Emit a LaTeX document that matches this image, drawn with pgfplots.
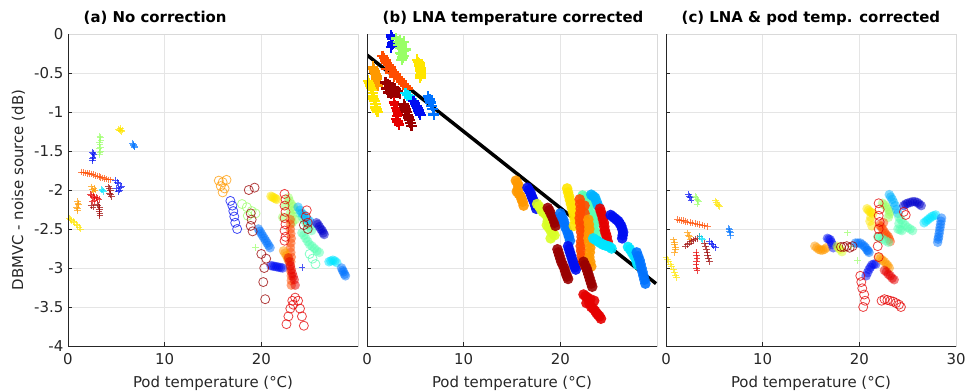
\documentclass[border=0pt]{standalone}
\usepackage{fontspec}
\setmainfont{DejaVu Sans}
\usepackage{pgfplots}
\pgfplotsset{compat=1.18}
\definecolor{jblue}{rgb}{0,0.05,0.95}
\definecolor{jdblue}{rgb}{0,0,0.8}
\definecolor{jazure}{rgb}{0,0.45,1}
\definecolor{jsky}{rgb}{0,0.7,1}
\definecolor{jcyan}{rgb}{0,0.9,1}
\definecolor{jaqua}{rgb}{0.35,1,0.7}
\definecolor{jlgreen}{rgb}{0.6,1,0.4}
\definecolor{jygreen}{rgb}{0.85,1,0.15}
\definecolor{jyellow}{rgb}{1,0.9,0}
\definecolor{jorange}{rgb}{1,0.6,0}
\definecolor{jorred}{rgb}{1,0.3,0}
\definecolor{jred}{rgb}{0.9,0,0}
\definecolor{jdred}{rgb}{0.6,0,0}
\definecolor{axgray}{rgb}{0.15,0.15,0.15}
\newcommand{\fs}{\fontsize{11.2}{13}\selectfont}
\pgfplotsset{
 panel/.style={scale only axis, width=217.5pt, height=234pt,
   xmin=0, xmax=30, ymin=-4, ymax=0,
   xtick={0,10,20,30}, ytick={-4,-3.5,...,0},
   grid=major, major grid style={draw=black!10, line width=0.4pt},
   axis line style={draw=black!15, line width=0.5pt},
   tick pos=left, tick align=inside, major tick length=3pt,
   tick style={draw=axgray, line width=0.5pt},
   /pgf/number format/assume math mode=true,
   ticklabel style={font=\fs, text=axgray},
   xticklabel style={yshift=-2pt},
   label style={font=\fs, text=axgray},
   xlabel={Pod temperature (°C)},
   xlabel style={at={(axis description cs:0.5,0)}, anchor=base, yshift=-31pt},
   title style={at={(axis description cs:0.038,1)}, anchor=base west, yshift=2.5pt, font=\fs\bfseries, text=black},
   anchor=south west, clip=true},
 pm/.style={only marks, mark=+, color=#1, mark size=2.5pt, mark options={line width=0.65pt, draw opacity=0.7}},
 pb/.style={only marks, mark=+, color=#1, mark size=4pt, mark options={line width=1.8pt}},
 fm/.style={only marks, mark=*, color=#1, mark size=3.6pt, mark options={draw opacity=0, fill opacity=0.5}},
 fb/.style={only marks, mark=*, color=#1, mark size=4pt, mark options={draw opacity=0, fill opacity=0.9}},
 om/.style={only marks, mark=o, color=#1, mark size=3.4pt, mark options={line width=0.6pt, draw opacity=0.75}},
}
\begin{document}
\begin{tikzpicture}
\useasboundingbox (0,0) rectangle (727.5pt,292.5pt);
% ---------------- (a)
\begin{axis}[panel, name=a1, at={(51pt,33pt)}, title={(a) No correction},
  xticklabels={0,10,20,}, ylabel={DBMVC - noise source (dB)}]
\addplot[pm=jyellow] coordinates {(5.2,-1.22)(5.4,-1.24)(5.6,-1.23)(5.4,-1.21)(5.3,-1.23)(5.5,-1.25)};
\addplot[pm=jazure] coordinates {(6.7,-1.40)(6.8,-1.43)(6.9,-1.45)(6.75,-1.42)(6.85,-1.44)};
\addplot[pm=jlgreen] coordinates {(3.3,-1.31)(3.4,-1.36)(3.3,-1.42)(3.2,-1.47)(3.4,-1.50)(3.3,-1.55)(3.35,-1.33)(3.25,-1.39)(3.35,-1.45)(3.3,-1.52)};
\addplot[pm=jblue] coordinates {(2.5,-1.52)(2.7,-1.55)(2.6,-1.58)(2.5,-1.62)(2.6,-1.53)(2.55,-1.6)};
\addplot[pm=jorred] coordinates {(1.4,-1.77)(1.6,-1.775)(1.8,-1.78)(2.0,-1.785)(2.2,-1.79)(2.4,-1.795)(2.6,-1.80)(2.8,-1.81)(3.0,-1.82)(3.2,-1.83)(3.4,-1.84)(3.6,-1.845)(3.8,-1.85)(4.0,-1.86)(4.2,-1.87)(4.4,-1.87)};
\addplot[pm=jblue] coordinates {(4.9,-1.88)(5.2,-1.92)(5.5,-1.95)(5.0,-1.98)(5.3,-2.0)(5.1,-1.9)(5.4,-1.97)(5.2,-2.02)};
\addplot[pm=jorange] coordinates {(2.4,-1.96)(2.7,-1.98)(2.6,-2.02)(2.5,-1.99)(2.8,-2.0)};
\addplot[pm=jcyan] coordinates {(3.5,-1.99)(3.7,-2.02)(3.6,-2.0)};
\addplot[pm=jdred] coordinates {(4.2,-1.96)(4.4,-2.0)(4.3,-2.04)(4.5,-2.08)(4.3,-1.98)(4.4,-2.06)};
\addplot[pm=jred] coordinates {(2.3,-2.06)(2.6,-2.08)(2.9,-2.1)(3.2,-2.12)(2.5,-2.15)(2.45,-2.07)(2.75,-2.09)(3.05,-2.11)(2.7,-2.14)};
\addplot[pm=jdred] coordinates {(3.0,-2.18)(3.3,-2.22)(3.2,-2.28)(3.3,-2.33)(2.4,-2.2)(3.1,-2.2)(3.25,-2.25)(3.3,-2.3)(2.6,-2.22)};
\addplot[pm=jorange] coordinates {(1.0,-2.15)(1.1,-2.19)(0.9,-2.22)(1.0,-2.26)(1.05,-2.17)(0.95,-2.24)};
\addplot[pm=jyellow] coordinates {(0.1,-2.36)(0.25,-2.375)(0.4,-2.39)(0.55,-2.405)(0.7,-2.42)(0.85,-2.44)(1.0,-2.46)(1.15,-2.48)(1.3,-2.5)};
\addplot[pm=jlgreen] coordinates {(19.4,-2.74)};
\addplot[pm=jblue] coordinates {(24.2,-2.99)};
% filled
\addplot[fm=jyellow] coordinates {(21.0,-2.08)(21.3,-2.1)(21.6,-2.12)(21.15,-2.09)(21.45,-2.11)};
\addplot[fm=jlgreen] coordinates {(22.8,-2.1)(23.1,-2.18)(23.4,-2.25)(23.0,-2.3)(23.5,-2.38)(23.2,-2.42)(22.5,-2.2)(22.2,-2.35)(22.9,-2.14)(23.3,-2.21)(23.2,-2.33)};
\addplot[fm=jazure] coordinates {(19.7,-2.5)(20.0,-2.56)(20.3,-2.62)(20.6,-2.68)(20.9,-2.74)(19.85,-2.53)(20.15,-2.59)(20.45,-2.65)(20.75,-2.71)};
\addplot[fm=jorred] coordinates {(23.0,-2.38)(23.0,-2.44)(23.0,-2.5)(23.05,-2.56)(23.1,-2.62)(23.05,-2.68)(23.0,-2.74)(23.05,-2.8)(23.1,-2.86)(23.05,-2.92)(23.0,-2.98)(23.05,-3.04)(23.1,-3.1)(23.1,-3.16)(23.1,-3.22)};
\addplot[fm=jorange] coordinates {(22.3,-2.78)(22.6,-2.84)(22.8,-2.9)(22.45,-2.81)(22.7,-2.87)};
\addplot[fm=jblue] coordinates {(21.0,-2.97)(21.2,-2.975)(21.4,-2.98)(21.6,-2.985)(21.8,-2.99)(22.0,-2.995)(22.2,-3.0)};
\addplot[fm=jred] coordinates {(22.8,-2.87)(23.0,-2.97)(23.2,-3.07)(23.4,-3.15)(23.5,-3.22)(22.9,-2.92)(23.1,-3.02)(23.3,-3.11)};
\addplot[fm=jaqua] coordinates {(24.0,-2.3)(24.4,-2.38)(24.8,-2.45)(25.2,-2.52)(24.2,-2.55)(24.6,-2.62)(25.0,-2.7)(25.5,-2.75)(26.0,-2.8)(24.2,-2.34)(24.6,-2.42)(25.0,-2.48)(24.4,-2.58)(24.8,-2.66)(25.25,-2.72)(25.75,-2.78)};
\addplot[fm=jsky] coordinates {(23.8,-2.22)(24.2,-2.3)(24.6,-2.35)(25.0,-2.4)(24.0,-2.26)(24.4,-2.32)(24.8,-2.38)};
\addplot[fm=jdblue] coordinates {(25.7,-2.42)(26.0,-2.47)(26.3,-2.52)(26.5,-2.57)(25.85,-2.44)(26.15,-2.5)(26.4,-2.55)};
\addplot[fm=jcyan] coordinates {(27.0,-2.92)(27.4,-2.9)(27.8,-2.93)(27.2,-2.91)(27.6,-2.91)};
\addplot[fm=jazure] coordinates {(28.3,-3.0)(28.5,-3.05)(28.7,-3.1)(28.4,-3.03)(28.6,-3.08)};
% open
\addplot[om=jorange] coordinates {(15.6,-1.88)(16.0,-1.9)(16.4,-1.87)(15.8,-1.95)(16.2,-1.98)(16.0,-2.03)};
\addplot[om=jblue] coordinates {(16.8,-2.14)(17.0,-2.2)(17.1,-2.27)(17.2,-2.34)(17.3,-2.42)(17.5,-2.5)};
\addplot[om=jdred] coordinates {(18.7,-2.0)(19.3,-1.97)};
\addplot[om=jlgreen] coordinates {(18.0,-2.18)(18.5,-2.22)(19.0,-2.27)(19.4,-2.3)(18.6,-2.33)};
\addplot[om=jdred] coordinates {(18.9,-2.3)(19.0,-2.38)(18.9,-2.46)(19.1,-2.53)};
\addplot[om=jred] coordinates {(22.4,-2.05)(22.5,-2.12)(22.4,-2.2)(22.5,-2.28)(22.4,-2.36)(22.5,-2.44)(22.4,-2.52)(22.5,-2.6)(22.4,-2.65)};
\addplot[om=jdred] coordinates {(20.0,-2.82)(20.5,-2.88)(20.3,-3.0)(20.2,-3.18)(20.4,-3.4)};
\addplot[om=jred] coordinates {(22.6,-3.72)(22.8,-3.62)(23.0,-3.52)(23.2,-3.42)(23.5,-3.38)(23.8,-3.42)(24.0,-3.52)(24.2,-3.62)(24.4,-3.74)(23.3,-3.47)};
\addplot[om=jred] coordinates {(24.7,-2.26)(24.6,-2.34)(24.8,-2.42)};
\addplot[om=jaqua] coordinates {(25.0,-2.82)(25.3,-2.88)(25.6,-2.95)};
\addplot[om=jdred] coordinates {(24.4,-2.45)(24.8,-2.5)};
\end{axis}
\draw[axgray, line width=0.5pt] (a1.north west) -- (a1.south west) -- (a1.south east);
% ---------------- (b)
\begin{axis}[panel, name=a2, at={(275.25pt,33pt)}, title={(b) LNA temperature corrected},
  xticklabels={0,10,20,}, yticklabels={}]
\addplot[pb=jblue] coordinates {(2.5,-0.02)(2.6,-0.06)(2.7,-0.10)(2.6,-0.14)(2.5,-0.17)(2.55,-0.04)(2.65,-0.12)};
\addplot[pb=jlgreen] coordinates {(3.0,-0.06)(3.4,-0.08)(3.8,-0.1)(3.2,-0.14)(3.6,-0.18)(4.0,-0.2)(3.4,-0.24)(3.8,-0.28)(3.6,-0.33)(3.2,-0.1)(3.6,-0.12)(3.4,-0.18)(3.8,-0.22)(3.6,-0.26)(3.7,-0.3)};
\addplot[pb=jyellow] coordinates {(5.2,-0.33)(5.4,-0.38)(5.5,-0.44)(5.6,-0.5)(5.5,-0.56)(5.3,-0.36)(5.45,-0.41)(5.55,-0.47)(5.55,-0.53)};
\addplot[pb=jorange] coordinates {(0.6,-0.42)(0.8,-0.48)(1.0,-0.54)(0.9,-0.6)(1.1,-0.66)(0.7,-0.45)(0.9,-0.51)(0.95,-0.57)(1.0,-0.63)};
\addplot[pb=jyellow] coordinates {(0.1,-0.6)(0.3,-0.66)(0.5,-0.72)(0.6,-0.8)(0.8,-0.86)(0.9,-0.94)(1.1,-1.0)(0.2,-0.63)(0.4,-0.69)(0.55,-0.76)(0.7,-0.83)(0.85,-0.9)(1.0,-0.97)};
\addplot[pb=jorred] coordinates {(1.6,-0.28)(1.9,-0.34)(2.2,-0.40)(2.6,-0.46)(3.0,-0.52)(3.4,-0.58)(3.8,-0.64)(4.2,-0.70)(2.0,-0.45)(2.8,-0.55)(1.75,-0.31)(2.05,-0.37)(2.4,-0.43)(2.8,-0.49)(3.2,-0.55)(3.6,-0.61)(4.0,-0.67)(2.4,-0.5)};
\addplot[pb=jdred] coordinates {(1.9,-0.62)(2.4,-0.66)(2.9,-0.7)(3.4,-0.76)(2.2,-0.75)(2.8,-0.8)(2.15,-0.64)(2.65,-0.68)(3.15,-0.73)(2.5,-0.77)(2.0,-0.7)};
\addplot[pb=jcyan] coordinates {(4.0,-0.76)(4.4,-0.8)(4.6,-0.84)(4.2,-0.78)};
\addplot[pb=jblue] coordinates {(4.8,-0.86)(5.1,-0.92)(5.3,-0.98)(5.5,-1.04)(4.95,-0.89)(5.2,-0.95)(5.4,-1.01)};
\addplot[pb=jred] coordinates {(2.8,-0.88)(3.0,-0.95)(3.2,-1.02)(3.0,-1.09)(3.3,-1.16)(2.9,-0.91)(3.1,-0.98)(3.1,-1.05)(3.15,-1.12)};
\addplot[pb=jdred] coordinates {(3.8,-0.9)(4.0,-0.97)(4.2,-1.04)(4.4,-1.1)(4.6,-1.18)(3.9,-0.93)(4.1,-1.0)(4.3,-1.07)(4.5,-1.14)};
\addplot[pb=jazure] coordinates {(6.3,-0.8)(6.6,-0.88)(6.8,-0.96)(6.9,-1.03)(6.45,-0.84)(6.7,-0.92)};
% filled
\addplot[fb=jorange] coordinates {(15.4,-1.88)(15.7,-1.95)(15.5,-2.02)(15.9,-2.08)(16.1,-2.15)(16.2,-2.2)(15.55,-1.91)(15.6,-1.99)(15.7,-2.05)(16.0,-2.12)};
\addplot[fb=jblue] coordinates {(16.6,-1.97)(16.9,-2.03)(17.1,-2.1)(17.3,-2.16)(17.5,-2.24)(16.75,-2.0)(17.0,-2.07)(17.2,-2.13)(17.4,-2.2)};
\addplot[fb=jygreen] coordinates {(17.6,-2.18)(18.0,-2.25)(18.4,-2.3)(18.8,-2.36)(18.6,-2.45)(19.0,-2.52)(19.4,-2.58)(19.0,-2.62)(17.8,-2.21)(18.2,-2.28)(18.6,-2.33)(18.7,-2.4)(18.8,-2.48)(19.2,-2.55)};
\addplot[fb=jdred] coordinates {(18.7,-2.23)(19.0,-2.3)(19.3,-2.38)(19.5,-2.46)(18.85,-2.26)(19.15,-2.34)(19.4,-2.42)};
\addplot[fb=jazure] coordinates {(20.0,-2.3)(20.3,-2.38)(20.5,-2.47)(20.8,-2.56)(21.0,-2.65)(20.15,-2.34)(20.4,-2.42)(20.65,-2.51)(20.9,-2.6)};
\addplot[fb=jyellow] coordinates {(20.7,-1.98)(20.9,-2.08)(21.1,-2.18)(21.3,-2.28)(21.5,-2.38)(21.4,-2.46)(20.8,-2.03)(21.0,-2.13)(21.2,-2.23)(21.4,-2.33)};
\addplot[fb=jaqua] coordinates {(22.3,-2.07)(22.7,-2.1)(23.2,-2.14)(23.6,-2.18)(22.8,-2.25)(23.4,-2.32)(23.8,-2.4)(23.2,-2.48)(23.8,-2.55)(22.5,-2.09)(22.95,-2.12)(23.4,-2.16)(23.0,-2.2)(23.1,-2.3)(23.6,-2.36)(23.5,-2.45)(23.5,-2.52)};
\addplot[fb=jsky] coordinates {(23.2,-2.06)(23.6,-2.1)(23.9,-2.2)(23.4,-2.08)(23.75,-2.15)};
\addplot[fb=jorred] coordinates {(22.0,-2.12)(22.1,-2.24)(22.0,-2.36)(22.1,-2.48)(22.2,-2.6)(22.1,-2.72)(22.2,-2.84)(22.3,-2.96)(22.5,-2.2)(22.6,-2.4)(22.05,-2.18)(22.05,-2.3)(22.05,-2.42)(22.15,-2.54)(22.15,-2.66)(22.15,-2.78)(22.25,-2.9)(22.5,-2.3)(22.5,-2.5)};
\addplot[fb=jorange] coordinates {(22.9,-2.38)(23.0,-2.5)(22.9,-2.62)(23.1,-2.74)(23.0,-2.86)(23.2,-2.98)(22.95,-2.44)(22.95,-2.56)(23.0,-2.68)(23.05,-2.8)(23.1,-2.92)};
\addplot[fb=jred] coordinates {(24.1,-2.24)(24.3,-2.32)(24.5,-2.42)(24.6,-2.52)(24.8,-2.6)(24.9,-2.66)(24.2,-2.28)(24.4,-2.37)(24.55,-2.47)(24.7,-2.56)};
\addplot[fb=jblue] coordinates {(25.2,-2.32)(25.6,-2.36)(26.0,-2.4)(26.3,-2.46)(26.5,-2.54)(26.4,-2.62)(25.4,-2.34)(25.8,-2.38)(26.15,-2.43)(26.4,-2.5)(26.45,-2.58)};
\addplot[fb=jcyan] coordinates {(23.4,-2.62)(23.9,-2.66)(24.4,-2.7)(24.9,-2.72)(25.3,-2.75)(23.65,-2.64)(24.15,-2.68)(24.65,-2.71)(25.1,-2.73)};
\addplot[fb=jcyan] coordinates {(27.0,-2.73)(27.4,-2.8)(27.8,-2.88)(28.0,-2.96)(27.2,-2.76)(27.6,-2.84)(27.9,-2.92)};
\addplot[fb=jazure] coordinates {(27.9,-2.8)(28.2,-2.9)(28.4,-3.0)(28.6,-3.1)(28.8,-3.2)(28.05,-2.85)(28.3,-2.95)(28.5,-3.05)(28.7,-3.15)};
\addplot[fb=jblue] coordinates {(20.8,-2.72)(21.0,-2.8)(21.2,-2.88)(21.4,-2.96)(21.6,-3.02)(20.9,-2.76)(21.1,-2.84)(21.3,-2.92)(21.5,-2.99)};
\addplot[fb=jdred] coordinates {(19.7,-2.76)(19.9,-2.84)(20.1,-2.92)(20.4,-3.0)(20.6,-3.08)(20.8,-3.14)(19.8,-2.8)(20.0,-2.88)(20.25,-2.96)(20.5,-3.04)(20.7,-3.11)};
\addplot[fb=jdred] coordinates {(22.4,-2.92)(22.7,-3.0)(22.9,-3.08)(23.1,-3.16)(23.3,-3.24)(22.55,-2.96)(22.8,-3.04)(23.0,-3.12)(23.2,-3.2)};
\addplot[fb=jred] coordinates {(22.4,-3.34)(22.8,-3.38)(23.0,-3.45)(23.2,-3.5)(23.6,-3.55)(23.9,-3.6)(24.2,-3.65)(23.5,-3.42)(22.6,-3.36)(23.1,-3.4)(23.4,-3.52)(23.75,-3.58)(24.05,-3.62)(22.7,-3.45)};
\addplot[black, line width=2.6pt, no marks] coordinates {(0,-0.27) (29.9,-3.2)};
\end{axis}
\draw[axgray, line width=0.5pt] (a2.north west) -- (a2.south west) -- (a2.south east);
% ---------------- (c)
\begin{axis}[panel, name=a3, at={(499.5pt,33pt)}, title={(c) LNA \& pod temp. corrected},
  xticklabels={0,10,20,30}, yticklabels={}]
\addplot[pm=jblue] coordinates {(2.3,-2.06)(2.5,-2.1)(2.6,-2.13)(2.4,-2.08)};
\addplot[pm=jlgreen] coordinates {(3.0,-2.08)(3.2,-2.12)(3.4,-2.15)(3.2,-2.18)(3.1,-2.1)(3.3,-2.14)};
\addplot[pm=jyellow] coordinates {(5.1,-2.14)(5.3,-2.18)(5.5,-2.21)(5.2,-2.16)(5.4,-2.2)};
\addplot[pm=jorred] coordinates {(1.2,-2.38)(1.4,-2.385)(1.6,-2.39)(1.8,-2.395)(2.0,-2.40)(2.25,-2.41)(2.5,-2.42)(2.75,-2.425)(3.0,-2.43)(3.25,-2.435)(3.5,-2.44)(3.75,-2.45)(4.0,-2.46)(4.3,-2.47)};
\addplot[pm=jazure] coordinates {(6.5,-2.49)(6.6,-2.53)(6.7,-2.58)(6.55,-2.51)(6.65,-2.55)};
\addplot[pm=jorange] coordinates {(0.8,-2.64)(0.9,-2.7)(1.0,-2.76)(0.9,-2.8)(0.85,-2.67)(0.95,-2.73)};
\addplot[pm=jorange] coordinates {(2.2,-2.55)(2.4,-2.6)(2.5,-2.64)(2.3,-2.58)};
\addplot[pm=jdred] coordinates {(2.0,-2.72)(2.4,-2.68)(2.8,-2.65)(3.2,-2.62)(3.5,-2.6)(2.2,-2.7)(2.6,-2.66)(3.0,-2.63)};
\addplot[pm=jcyan] coordinates {(3.5,-2.6)(3.8,-2.64)(3.65,-2.62)};
\addplot[pm=jblue] coordinates {(4.5,-2.66)(4.8,-2.7)(5.1,-2.74)(4.65,-2.68)(4.95,-2.72)};
\addplot[pm=jred] coordinates {(3.1,-2.8)(3.2,-2.88)(3.1,-2.96)(3.2,-3.03)(3.15,-2.84)(3.15,-2.92)(3.15,-3.0)};
\addplot[pm=jdred] coordinates {(4.0,-2.68)(4.2,-2.76)(4.3,-2.84)(4.5,-2.92)(4.1,-2.72)(4.25,-2.8)(4.4,-2.88)};
\addplot[pm=jyellow] coordinates {(0.0,-2.86)(0.15,-2.89)(0.3,-2.92)(0.45,-2.95)(0.6,-2.98)(0.75,-3.02)(0.9,-3.06)(1.0,-3.09)(1.1,-3.12)};
\addplot[pm=jlgreen] coordinates {(18.8,-2.55)(19.8,-2.9)(19.2,-2.72)};
% filled
\addplot[fm=jorange] coordinates {(15.4,-2.72)(15.8,-2.76)(16.2,-2.77)(16.6,-2.74)(15.6,-2.74)(16.0,-2.77)(16.4,-2.76)};
\addplot[fm=jblue] coordinates {(16.7,-2.62)(17.0,-2.64)(17.2,-2.7)(17.3,-2.74)(16.85,-2.63)(17.1,-2.67)};
\addplot[fm=jygreen] coordinates {(17.7,-2.72)(18.0,-2.76)(18.2,-2.79)(17.85,-2.74)};
\addplot[fm=jazure] coordinates {(19.6,-2.68)(20.1,-2.68)(20.5,-2.72)(20.8,-2.77)(21.0,-2.8)(19.85,-2.68)(20.3,-2.7)(20.65,-2.74)(20.9,-2.78)};
\addplot[fm=jblue] coordinates {(20.7,-3.1)(21.0,-3.02)(21.3,-2.96)(21.7,-2.95)(20.85,-3.06)(21.15,-2.99)(21.5,-2.95)};
\addplot[fm=jorange] coordinates {(22.0,-2.86)(22.4,-2.9)(22.8,-2.95)(23.1,-3.0)(22.2,-2.88)(22.6,-2.92)(22.95,-2.97)};
\addplot[fm=jred] coordinates {(22.6,-3.03)(23.0,-3.08)(23.4,-3.13)(23.6,-3.15)(22.8,-3.05)(23.2,-3.1)};
\addplot[fm=jyellow] coordinates {(20.8,-2.24)(21.1,-2.28)(21.4,-2.3)(21.1,-2.4)(21.3,-2.46)(20.95,-2.26)(21.25,-2.29)(21.2,-2.35)};
\addplot[fm=jlgreen] coordinates {(22.4,-2.17)(22.8,-2.22)(23.2,-2.28)(23.0,-2.35)(22.6,-2.19)(23.0,-2.25)(23.1,-2.31)};
\addplot[fm=jorred] coordinates {(22.1,-2.45)(22.4,-2.5)(22.7,-2.56)(23.0,-2.6)(23.2,-2.66)(22.5,-2.42)(22.25,-2.47)(22.55,-2.53)(22.85,-2.58)(23.1,-2.63)};
\addplot[fm=jsky] coordinates {(23.1,-2.06)(23.4,-2.12)(23.7,-2.2)(24.0,-2.3)(23.25,-2.09)(23.55,-2.16)(23.85,-2.25)};
\addplot[fm=jaqua] coordinates {(24.1,-2.35)(24.5,-2.42)(25.0,-2.48)(25.5,-2.52)(24.4,-2.52)(24.0,-2.5)(24.3,-2.38)(24.75,-2.45)(25.25,-2.5)(24.2,-2.51)(24.1,-2.43)};
\addplot[fm=jdblue] coordinates {(24.6,-2.2)(25.0,-2.17)(25.5,-2.15)(26.0,-2.16)(26.4,-2.2)(24.8,-2.18)(25.25,-2.16)(25.75,-2.15)(26.2,-2.18)};
\addplot[fm=jcyan] coordinates {(26.7,-2.42)(27.1,-2.38)(27.5,-2.34)(27.9,-2.32)(26.9,-2.4)(27.3,-2.36)(27.7,-2.33)};
\addplot[fm=jazure] coordinates {(28.5,-2.36)(28.4,-2.44)(28.3,-2.52)(28.2,-2.6)(28.1,-2.67)(28.45,-2.4)(28.35,-2.48)(28.25,-2.56)(28.15,-2.63)};
\addplot[fm=jaqua] coordinates {(21.9,-2.6)(22.4,-2.63)(23.0,-2.67)(22.15,-2.61)(22.7,-2.65)};
% open
\addplot[om=jdred] coordinates {(18.1,-2.73)(18.4,-2.73)(18.7,-2.72)(19.0,-2.74)(19.3,-2.72)};
\addplot[om=jred] coordinates {(20.1,-3.1)(20.2,-3.18)(20.3,-3.26)(20.5,-3.34)(20.6,-3.42)(20.4,-3.5)};
\addplot[om=jred] coordinates {(22.0,-2.17)(22.1,-2.25)(22.0,-2.33)(22.1,-2.41)(22.0,-2.5)(22.0,-2.6)(21.9,-2.72)(22.0,-2.86)};
\addplot[om=jred] coordinates {(22.3,-3.42)(22.6,-3.4)(22.9,-3.41)(23.2,-3.42)(23.5,-3.43)(23.8,-3.45)(24.1,-3.47)(24.3,-3.5)};
\addplot[om=jred] coordinates {(24.6,-2.28)(24.8,-2.32)};
\end{axis}
\draw[axgray, line width=0.5pt] (a3.north west) -- (a3.south west) -- (a3.south east);
\end{tikzpicture}
\end{document}
